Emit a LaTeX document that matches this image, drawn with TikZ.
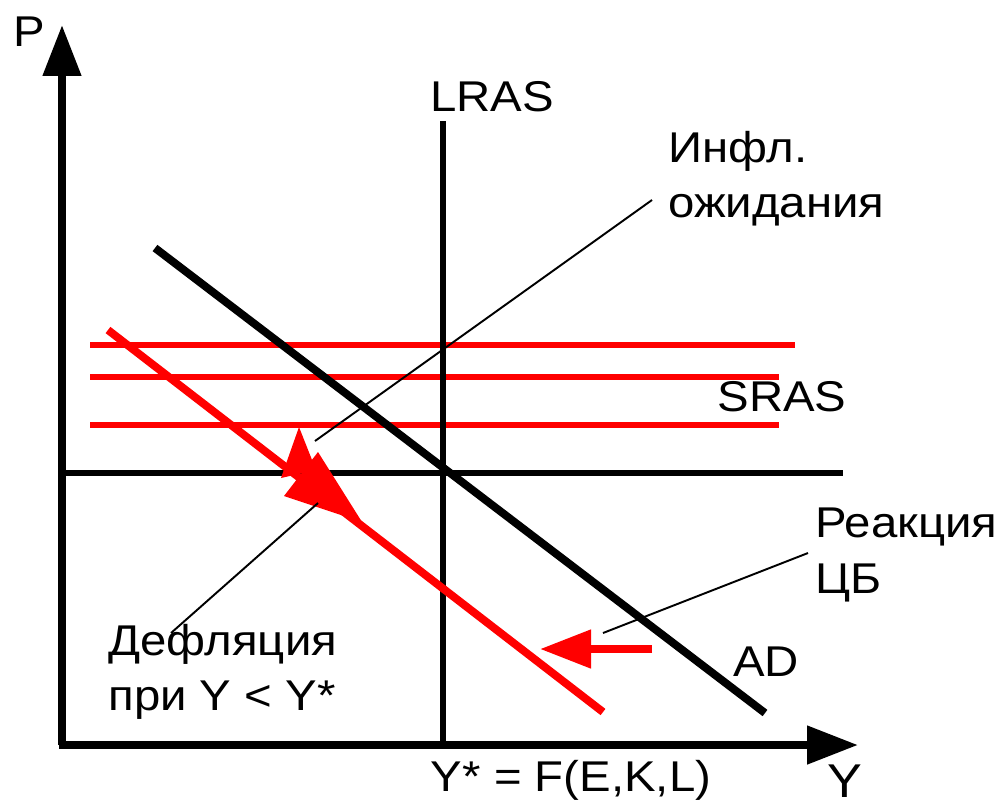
\documentclass[tikz,border=0pt]{standalone}
\usepackage{fontspec}
\setmainfont{Liberation Sans}[FakeStretch=1.1]
\usepackage{tikz}
\usepackage{xcolor}
\usetikzlibrary{arrows.meta,positioning,calc}
\definecolor{ink}{HTML}{000000}
\definecolor{shiftred}{HTML}{FF0000}
\tikzset{
  axisline/.style={
    draw=ink, line width=4.5pt,
    -{Triangle[length=1.02cm,width=0.74cm]}
  },
  gridline/.style={draw=ink, line width=3.4pt},
  adline/.style={draw=ink, line width=4.5pt},
  sraslline/.style={draw=shiftred, line width=3.4pt},
  deflline/.style={draw=shiftred, line width=4.5pt},
  cbarrow/.style={
    draw=shiftred, line width=4.5pt,
    -{Triangle[length=1.02cm,width=0.74cm]}
  },
  leaderline/.style={draw=ink, line width=1.1pt},
  plotlabel/.style={
    inner sep=0pt, font=\fontsize{24.5}{31.5}\selectfont, text=ink
  },
  notelabel/.style={
    plotlabel, align=left, anchor=north west
  }
}

\begin{document}
\begin{tikzpicture}[x=0.02cm,y=-0.02cm]
  \useasboundingbox (0,0) rectangle (999,806);

  % axes
  \coordinate (origin) at (62,745);
  \coordinate (ptop) at (62,25);
  \coordinate (yend) at (858,745);
  \node[plotlabel] (plab) at (29,32) {P};
  \node[plotlabel,font=\fontsize{27}{30}\selectfont] (ylab) at (845,781) {Y};
  \node[plotlabel] (ystar) at (571,780) {Y* = F(E,K,L)};

  % SRAS curves (drawn first, black lines on top)
  \draw[sraslline] (90,345) -- (795,345);
  \draw[sraslline] (90,377) -- (779,377);
  \draw[sraslline] (90,425) -- (779,425);
  \node[plotlabel] (sras) at (782,397) {SRAS};

  % LRAS and the price level at Y*
  \coordinate (lrastop) at (443,121);
  \coordinate (lrasbot) at (443,745);
  \draw[gridline] (lrastop) -- (lrasbot);
  \draw[gridline] (62,473) -- (843,473);
  \node[plotlabel] (lras) at (492,97) {LRAS};

  % AD
  \coordinate (adtop) at (155,248);
  \coordinate (adbot) at (765,713);
  \draw[adline] (adtop) -- (adbot);
  \node[plotlabel] (ad) at (766,662) {AD};

  \draw[axisline] (origin) -- (ptop);
  \draw[axisline] ($(origin)+(-3,0)$) -- (yend);

  % deflation path
  \coordinate (defltop) at (108,330);
  \coordinate (deflbot) at (603,712);
  \draw[deflline] (defltop) -- (deflbot);
  \fill[shiftred] (299,427) -- (281,478) -- (316,470) -- cycle;
  \fill[shiftred] (318,452) -- (284,496) -- (362,522) -- cycle;
  \coordinate (cbstart) at (652,649);
  \coordinate (cbend) at (540,649);
  \draw[cbarrow] (cbstart) -- (cbend);

  % labels with leaders
  \node[notelabel] (infl) at (668,131) {Инфл.\\ожидания};
  \node[notelabel] (cb) at (815,508) {Реакция\\ЦБ};
  \node[notelabel] (defl) at (108,624) {Дефляция\\при Y < Y*};
  \coordinate (inflfrom) at (652,200);
  \coordinate (inflto) at (315,441);
  \coordinate (deflfrom) at (171,633);
  \coordinate (deflto) at (318,503);
  \coordinate (cbfrom) at (808,553);
  \coordinate (cbto) at (603,633);
  \draw[leaderline] (inflfrom) -- (inflto);
  \draw[leaderline] (deflfrom) -- (deflto);
  \draw[leaderline] (cbfrom) -- (cbto);
\end{tikzpicture}
\end{document}
